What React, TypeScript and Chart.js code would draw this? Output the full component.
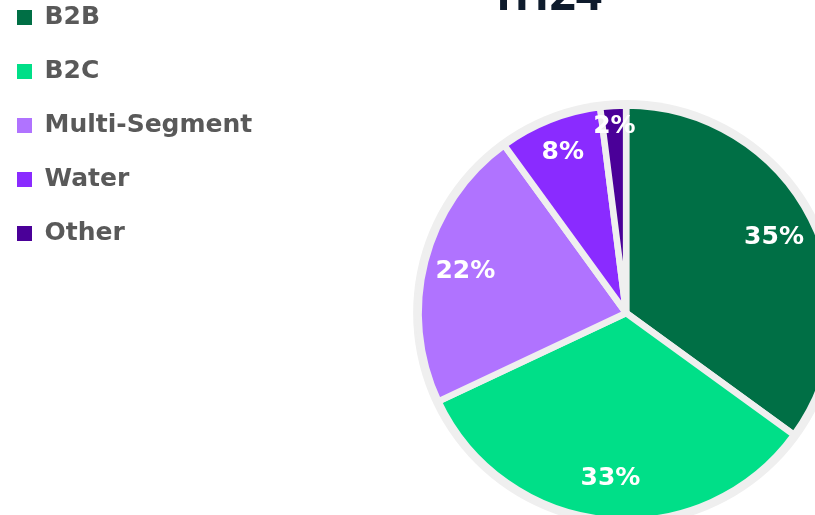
import React, { useEffect, useRef } from "react";
import { Chart, registerables } from "chart.js";

Chart.register(...registerables);

const TITLE = "1H24";
const CATEGORIES = ["B2B", "B2C", "Multi-Segment", "Water", "Other"];
const SHARES = [35, 33, 22, 8, 2];
const COLORS = ["#006F45", "#00DF88", "#B073FF", "#8A2BFF", "#4A0098"];

const CANVAS_W = 1001;
const CANVAS_H = 674;

export default function App() {
  const ref = useRef<HTMLCanvasElement>(null);

  useEffect(() => {
    if (!ref.current) return;

    const rimPlugin = {
      id: "rim",
      beforeDatasetsDraw(chart: any) {
        const arc = chart.getDatasetMeta(0).data[0];
        if (!arc) return;
        const { x, y, outerRadius } = arc.getProps(["x", "y", "outerRadius"], true);
        const ctx = chart.ctx;
        ctx.save();
        ctx.beginPath();
        ctx.arc(x, y, outerRadius + 5.5, 0, Math.PI * 2);
        ctx.fillStyle = "#EFEFEF";
        ctx.fill();
        ctx.restore();
      },
    };

    const labelPlugin = {
      id: "sliceLabels",
      afterDatasetsDraw(chart: any) {
        const meta = chart.getDatasetMeta(0);
        const ctx = chart.ctx;
        ctx.save();
        ctx.fillStyle = "#FFFFFF";
        ctx.font = 'bold 25px "DejaVu Sans"';
        ctx.textAlign = "center";
        ctx.textBaseline = "middle";
        meta.data.forEach((arc: any, i: number) => {
          const { x, y, startAngle, endAngle, outerRadius } = arc.getProps(
            ["x", "y", "startAngle", "endAngle", "outerRadius"],
            true
          );
          const mid = (startAngle + endAngle) / 2;
          const v = SHARES[i];
          const f = v < 5 ? 0.9 : v < 10 ? 0.83 : 0.8;
          ctx.fillText(
            v + "%",
            x + Math.cos(mid) * outerRadius * f,
            y + Math.sin(mid) * outerRadius * f
          );
        });
        ctx.restore();
      },
    };

    const titlePlugin = {
      id: "topTitle",
      afterDraw(chart: any) {
        const ctx = chart.ctx;
        ctx.save();
        ctx.fillStyle = "#0E1B2C";
        ctx.font = 'bold 46px "Open Sans"';
        ctx.textAlign = "center";
        ctx.textBaseline = "alphabetic";
        ctx.fillText(TITLE, 557, 34);
        ctx.restore();
      },
    };

    const chart = new Chart(ref.current, {
      type: "pie",
      data: {
        labels: CATEGORIES,
        datasets: [
          {
            data: SHARES,
            backgroundColor: COLORS,
            borderColor: "#EFEFEF",
            borderWidth: 6.5,
          },
        ],
      },
      options: {
        responsive: false,
        animation: false,
        events: [],
        radius: 207.5,
        layout: { padding: 0 },
        plugins: {
          tooltip: { enabled: false },
          title: { display: false },
          legend: {
            display: true,
            position: "left",
            align: "start",
            labels: {
              boxWidth: 15,
              boxHeight: 15,
              padding: 29,
              color: "#595959",
              font: { family: '"DejaVu Sans"', size: 25, weight: "bold" },
              generateLabels: () =>
                CATEGORIES.map((c, i) => ({
                  text: c,
                  fillStyle: COLORS[i],
                  strokeStyle: COLORS[i],
                  lineWidth: 0,
                  hidden: false,
                  index: i,
                  fontColor: "#595959",
                })),
            },
          },
        },
      } as any,
      plugins: [rimPlugin, labelPlugin, titlePlugin],
    });

    return () => chart.destroy();
  }, []);

  return (
    <div
      style={{
        position: "fixed",
        left: 0,
        top: 0,
        width: 815,
        height: 515,
        overflow: "hidden",
        background: "#FFFFFF",
      }}
    >
      <canvas
        ref={ref}
        width={CANVAS_W + 1}
        height={CANVAS_H}
        style={{ position: "absolute", left: -12, top: -24 }}
      />
    </div>
  );
}
